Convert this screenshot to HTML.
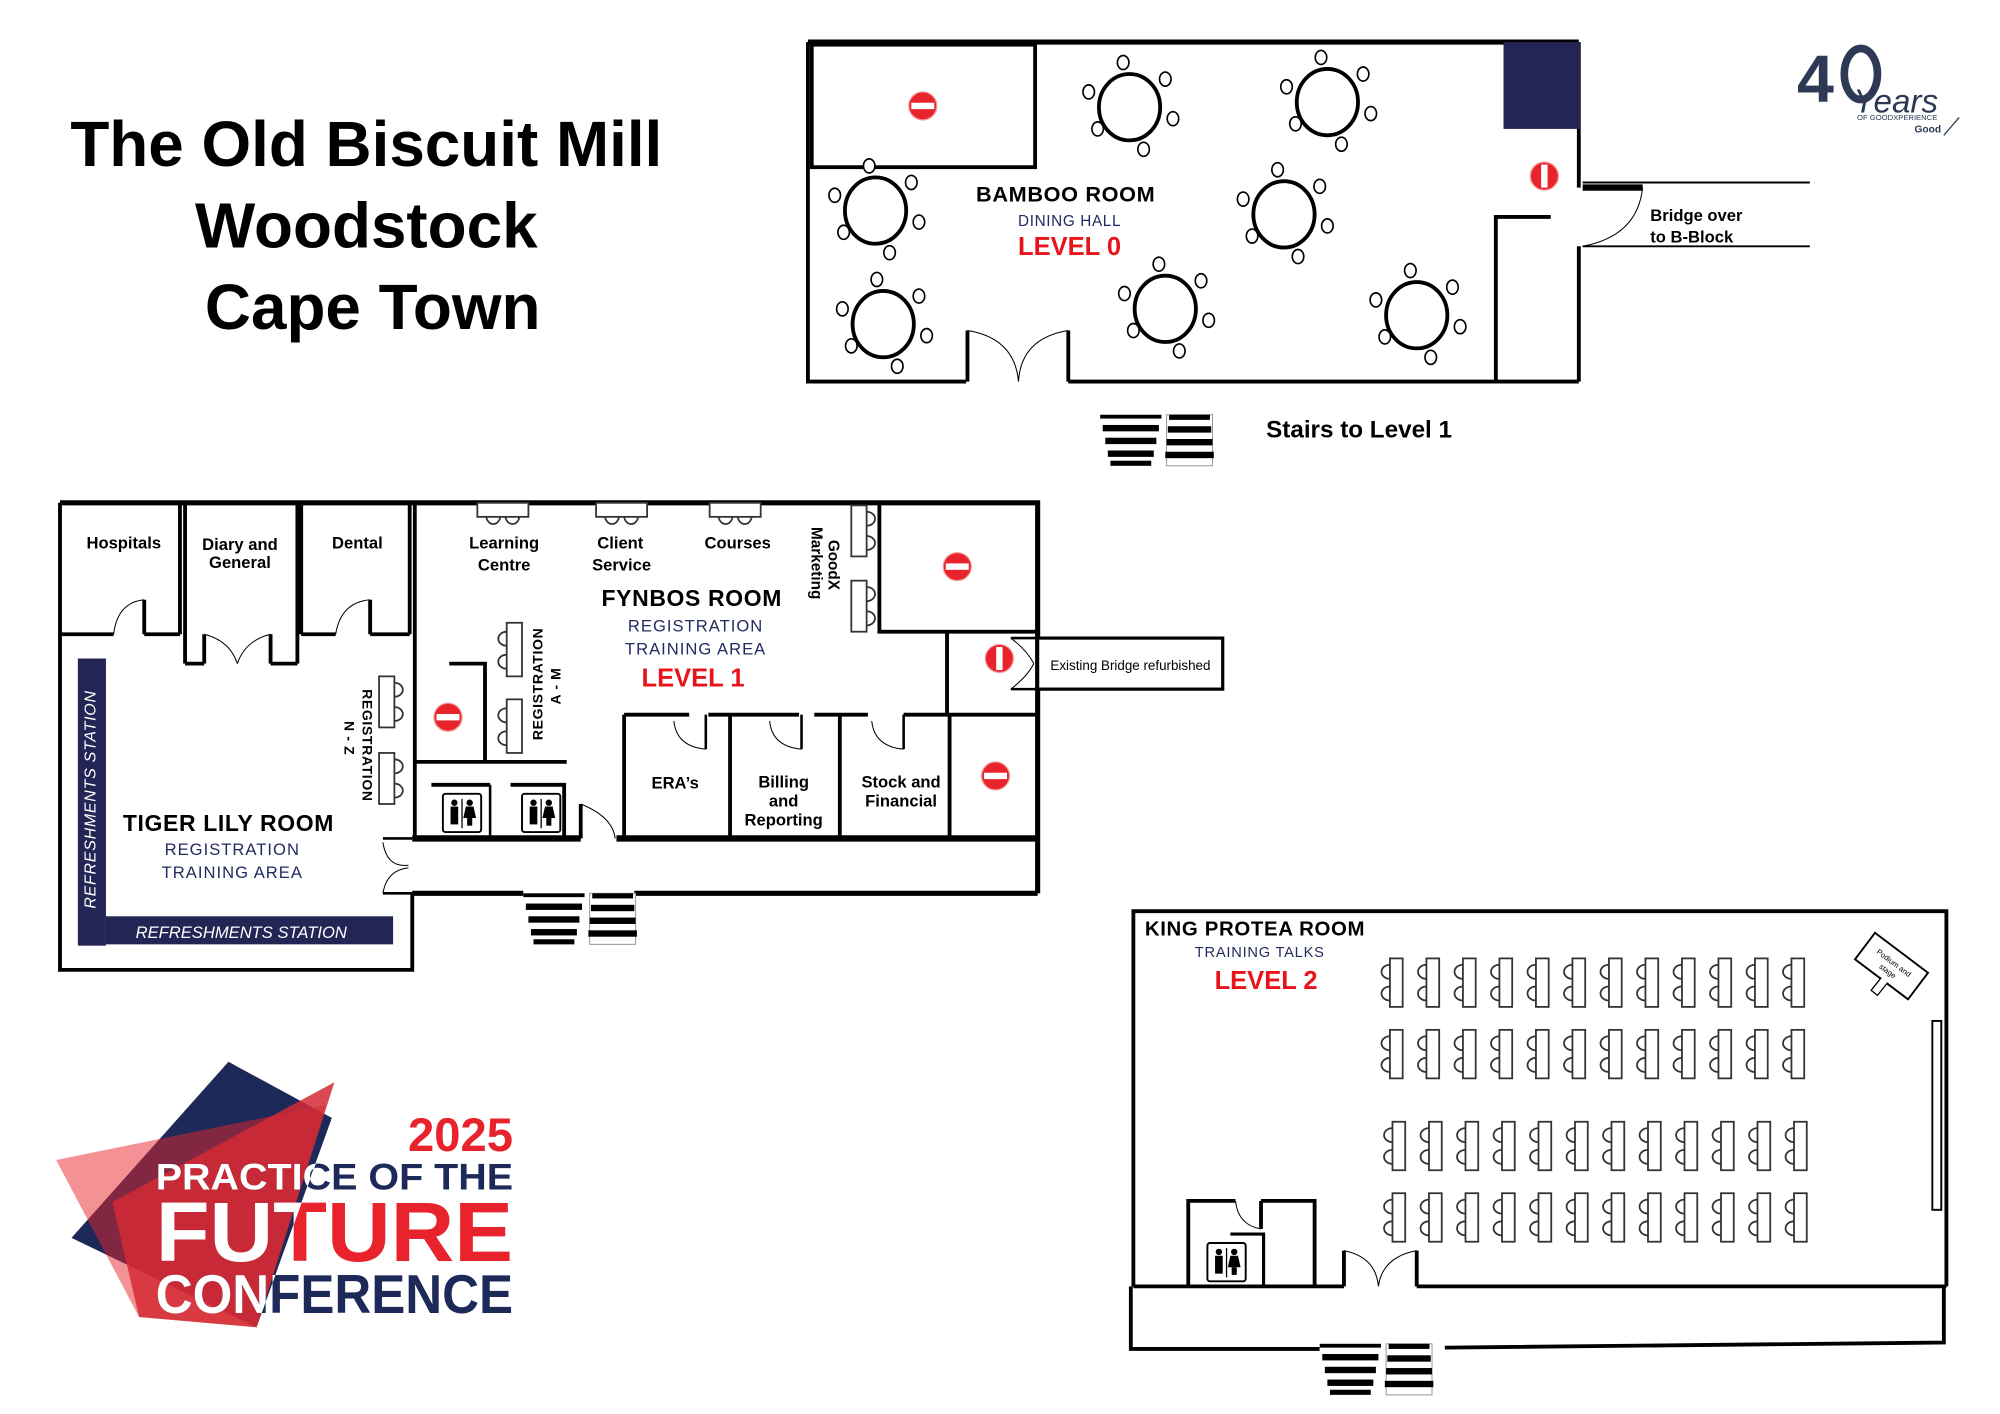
<!DOCTYPE html>
<html><head><meta charset="utf-8">
<style>
html,body{margin:0;padding:0;background:#fff;}
svg{display:block;}
text{font-family:"Liberation Sans",sans-serif;}
</style></head>
<body>
<svg width="2000" height="1414" viewBox="0 0 1567 1108" preserveAspectRatio="none" xmlns="http://www.w3.org/2000/svg">
<defs>
  <g id="tbl">
    <ellipse cx="0" cy="0" rx="24" ry="26" fill="#fff" stroke="#000" stroke-width="3"/>
    <g fill="#fff" stroke="#000" stroke-width="1.3">
      <ellipse cx="-5" cy="-35" rx="4.5" ry="5.5"/><ellipse cx="28" cy="-22" rx="4.5" ry="5.5"/>
      <ellipse cx="34" cy="9" rx="4.5" ry="5.5"/><ellipse cx="11" cy="33" rx="4.5" ry="5.5"/>
      <ellipse cx="-25" cy="17" rx="4.5" ry="5.5"/><ellipse cx="-32" cy="-12" rx="4.5" ry="5.5"/>
    </g>
  </g>
  <g id="desk" fill="#fff" stroke="#333" stroke-width="1.4">
    <path d="M9,5 a6,5 0 0 0 0,11"/><path d="M9,22 a6,5 0 0 0 0,11"/>
    <rect x="9" y="0" width="10" height="38"/>
  </g>
  <g id="deskR" fill="#fff" stroke="#333" stroke-width="1.4">
    <path d="M12,5 a6,5 0 0 1 0,11"/><path d="M12,24 a6,5 0 0 1 0,11"/>
    <rect x="0" y="0" width="12" height="40"/>
  </g>
  <g id="deskL" fill="#fff" stroke="#333" stroke-width="1.4">
    <path d="M0,7 a6,5 0 0 0 0,11"/><path d="M0,25 a6,5 0 0 0 0,11"/>
    <rect x="0" y="0" width="12" height="42"/>
  </g>
  <g id="deskT" fill="#fff" stroke="#333" stroke-width="1.4">
    <path d="M7,10 a5,6 0 0 0 11,0"/><path d="M22,10 a5,6 0 0 0 11,0"/>
    <rect x="0" y="0" width="40" height="11"/>
  </g>
  <g id="noentry">
    <circle r="11" fill="#e8232b" stroke="#f3a0a0" stroke-width="1"/>
    <rect x="-9" y="-2.5" width="18" height="5" fill="#fff"/>
  </g>
  <g id="stairs">
    <rect x="0" y="0" width="48" height="40" fill="#fff"/>
    <rect x="0" y="0" width="48" height="3" fill="#000"/>
    <rect x="2" y="8" width="44" height="5" fill="#000"/>
    <rect x="4" y="18" width="40" height="5" fill="#000"/>
    <rect x="6" y="28" width="36" height="5" fill="#000"/>
    <rect x="8" y="36" width="32" height="4" fill="#000"/>
    <rect x="52" y="0" width="36" height="40" fill="#fff" stroke="#999" stroke-width="0.8"/>
    <rect x="54" y="0" width="32" height="4" fill="#000"/>
    <rect x="53" y="9" width="34" height="5" fill="#000"/>
    <rect x="52" y="19" width="36" height="5" fill="#000"/>
    <rect x="51" y="29" width="38" height="5" fill="#000"/>
  </g>
  <g id="wc">
    <rect x="0" y="0" width="30" height="30" rx="2" fill="#fff" stroke="#000" stroke-width="1.5"/>
    <circle cx="9" cy="7" r="2.5"/><rect x="6" y="10" width="6" height="14"/>
    <circle cx="21" cy="7" r="2.5"/><path d="M18,10 h6 l2,9 h-10z"/><rect x="19" y="19" width="4" height="6"/>
    <line x1="15" y1="4" x2="15" y2="27" stroke="#000" stroke-width="1"/>
  </g>
  <clipPath id="logoClip">
    <polygon points="179,828 262,872 201,1040 56,970"/>
    <polygon points="44,909 255,866 262,848 201,1040 109,1032"/>
  </clipPath>
</defs>

<g font-weight="bold" font-size="50" text-anchor="middle" fill="#000">
  <text x="287" y="130">The Old Biscuit Mill</text>
  <text x="287" y="194">Woodstock</text>
  <text x="292" y="258">Cape Town</text>
</g>

<g stroke="#000" fill="none">
  <path d="M633,33 H1237" stroke-width="4"/>
  <path d="M633,33 V299 H757" stroke-width="3"/>
  <path d="M837,299 H1237" stroke-width="3"/>
  <path d="M1237,33 V147" stroke-width="3"/>
  <path d="M1237,193 V299" stroke-width="3"/>
  <rect x="636" y="35" width="175" height="96" stroke-width="3"/>
  <path d="M758,299 V259 M837,299 V259" stroke-width="3"/>
  <path d="M758,259 Q795,265 798,299 M837,259 Q800,265 798,299" stroke-width="0.8"/>
  <path d="M1172,299 V170 H1215" stroke-width="3"/>
  <path d="M1240,143 H1418 M1240,193 H1418" stroke-width="1.5"/>
  <path d="M1240,147 H1287" stroke-width="5"/>
  <path d="M1287,147 Q1283,185 1240,193" stroke-width="0.8"/>
</g>
<rect x="1178" y="33" width="60" height="68" fill="#232654"/>
<use href="#noentry" x="723" y="83"/>
<use href="#noentry" transform="translate(1210,138) rotate(90)"/>
<use href="#tbl" x="885" y="84"/>
<use href="#tbl" x="1040" y="80"/>
<use href="#tbl" x="686" y="165"/>
<use href="#tbl" x="1006" y="168"/>
<use href="#tbl" x="692" y="254"/>
<use href="#tbl" x="913" y="242"/>
<use href="#tbl" x="1110" y="247"/>
<text x="835" y="158" font-size="17" font-weight="bold" text-anchor="middle" letter-spacing="0.5">BAMBOO ROOM</text>
<text x="838" y="177" font-size="12" fill="#232a60" text-anchor="middle" letter-spacing="0.5">DINING HALL</text>
<text x="838" y="200" font-size="20" font-weight="bold" fill="#e8141c" text-anchor="middle">LEVEL 0</text>
<text x="1293" y="173" font-size="13" font-weight="bold">Bridge over</text>
<text x="1293" y="190" font-size="13" font-weight="bold">to B-Block</text>
<use href="#stairs" x="862" y="325"/>
<text x="992" y="343" font-size="19" font-weight="bold">Stairs to Level 1</text>

<g fill="#2e3a55">
  <text x="1408" y="80" font-size="52" font-weight="bold">4</text>
  <ellipse cx="1458" cy="58" rx="13" ry="20" fill="none" stroke="#2e3a55" stroke-width="6"/>
  <text x="1452" y="88" font-size="26" font-style="italic" font-family="Liberation Serif,serif">Years</text>
  <text x="1455" y="94" font-size="6">OF GOODXPERIENCE</text>
  <text x="1500" y="104" font-size="8" font-weight="bold">Good</text>
  <path d="M1523,106 l12,-14" stroke="#2e3a55" stroke-width="1"/>
</g>

<g stroke="#000" fill="none" stroke-width="3">
  <path d="M47,394 H813 V700" stroke-width="4"/>
  <path d="M47,394 V760 H323 V700"/>
  <path d="M323,700 H410 M497,700 H813" stroke-width="4"/>
  <path d="M141,394 V497 M145,394 V520 M233,394 V520 M236,394 V497 M321,394 V497 M325,394 V657"/>
  <path d="M47,497 H89 M113,497 H141"/>
  <path d="M145,520 H160 M212,520 H233"/>
  <path d="M236,497 H263 M290,497 H321"/>
  <path d="M113,470 Q92,472 89,497 M290,470 Q267,472 263,497 M160,497 Q180,502 186,520 M212,497 Q192,502 186,520" stroke-width="0.8"/>
  <path d="M160,520 V497 M212,520 V497 M113,497 V470 M290,497 V470" stroke-width="3"/>
  <path d="M300,657 H323 M300,700 H323" stroke-width="2"/>
  <path d="M300,660 Q303,680 320,678 M300,700 Q303,682 320,680" stroke-width="0.8"/>
  <rect x="689" y="394" width="124" height="101" />
  <path d="M742,495 V560"/>
  <path d="M792,500 H813 M792,540 H813" stroke-width="2"/>
  <path d="M792,500 Q805,510 810,520 M792,540 Q805,530 810,520" stroke-width="0.8"/>
  <path d="M489,560 H540 M555,560 H626 M638,560 H680 M708,560 H813" />
  <path d="M489,560 V657 M572,560 V657 M658,560 V657 M744,560 V657"/>
  <path d="M553,560 V587 M628,560 V587 M708,560 V587" stroke-width="2"/>
  <path d="M528,565 Q530,585 553,587 M603,565 Q605,585 628,587 M683,565 Q685,585 708,587" stroke-width="0.8"/>
  <path d="M483,657 H813" stroke-width="5"/>
  <path d="M323,657 H455" stroke-width="5"/>
  <path d="M352,520 H380 V597 M325,597 H444" />
  <path d="M455,657 V630" stroke-width="3"/>
  <path d="M455,630 Q480,640 482,657" stroke-width="0.8"/>
  <path d="M384,615 V657" stroke-width="2"/>
  <path d="M338,615 H384 M400,615 H442 V657" stroke-width="3"/>
</g>
<rect x="813" y="500" width="145" height="40" fill="#fff" stroke="#000" stroke-width="2.5"/>
<text x="823" y="525" font-size="10.5">Existing Bridge refurbished</text>
<rect x="61" y="516" width="22" height="225" fill="#232654"/>
<rect x="83" y="718" width="225" height="22" fill="#232654"/>
<text transform="translate(75,712) rotate(-90)" font-size="12.5" font-style="italic" fill="#fff" letter-spacing="0.6">REFRESHMENTS STATION</text>
<text x="189" y="735" font-size="13" font-style="italic" fill="#fff" text-anchor="middle">REFRESHMENTS STATION</text>
<use href="#noentry" x="750" y="444"/>
<use href="#noentry" transform="translate(783,516) rotate(90)"/>
<use href="#noentry" x="351" y="562"/>
<use href="#noentry" x="780" y="608"/>
<use href="#wc" x="347" y="622"/>
<use href="#wc" x="409" y="622"/>
<use href="#deskT" x="374" y="394"/>
<use href="#deskT" x="467" y="394"/>
<use href="#deskT" x="556" y="394"/>
<use href="#deskR" x="667" y="396"/>
<use href="#deskR" x="667" y="455"/>
<use href="#deskL" x="397" y="488"/>
<use href="#deskL" x="397" y="548"/>
<use href="#deskR" x="297" y="530"/>
<use href="#deskR" x="297" y="590"/>
<g font-size="13" font-weight="bold" text-anchor="middle">
  <text x="97" y="430">Hospitals</text>
  <text x="188" y="431">Diary and</text><text x="188" y="445">General</text>
  <text x="280" y="430">Dental</text>
  <text x="395" y="430">Learning</text><text x="395" y="447">Centre</text>
  <text x="486" y="430">Client</text><text x="487" y="447">Service</text>
  <text x="578" y="430">Courses</text>
  <text x="529" y="618">ERA’s</text>
  <text x="614" y="617">Billing</text><text x="614" y="632">and</text><text x="614" y="647">Reporting</text>
  <text x="706" y="617">Stock and</text><text x="706" y="632">Financial</text>
</g>
<text transform="translate(636,413) rotate(90)" font-size="12" font-weight="bold">Marketing</text>
<text transform="translate(649,423) rotate(90)" font-size="12" font-weight="bold">GoodX</text>
<text transform="translate(425,580) rotate(-90)" font-size="11" font-weight="bold" letter-spacing="0.5">REGISTRATION</text>
<text transform="translate(439,552) rotate(-90)" font-size="11" font-weight="bold" letter-spacing="0.5">A - M</text>
<text transform="translate(284,540) rotate(90)" font-size="11" font-weight="bold" letter-spacing="0.5">REGISTRATION</text>
<text transform="translate(270,565) rotate(90)" font-size="11" font-weight="bold" letter-spacing="0.5">N - Z</text>
<text x="542" y="475" font-size="18" font-weight="bold" text-anchor="middle" letter-spacing="0.5">FYNBOS ROOM</text>
<text x="545" y="495" font-size="13" fill="#232a60" text-anchor="middle" letter-spacing="0.8">REGISTRATION</text>
<text x="545" y="513" font-size="13" fill="#232a60" text-anchor="middle" letter-spacing="0.8">TRAINING AREA</text>
<text x="543" y="538" font-size="20" font-weight="bold" fill="#e8141c" text-anchor="middle">LEVEL 1</text>
<text x="179" y="651" font-size="18" font-weight="bold" text-anchor="middle" letter-spacing="0.5">TIGER LILY ROOM</text>
<text x="182" y="670" font-size="13" fill="#232a60" text-anchor="middle" letter-spacing="0.8">REGISTRATION</text>
<text x="182" y="688" font-size="13" fill="#232a60" text-anchor="middle" letter-spacing="0.8">TRAINING AREA</text>
<use href="#stairs" x="410" y="700"/>

<g stroke="#000" fill="none" stroke-width="3">
  <path d="M888,1008 V714 H1525 V1008"/>
  <path d="M888,1008 H1053 M1110,1008 H1525"/>
  <path d="M1053,1008 V980 M1110,1008 V980"/>
  <path d="M1053,980 Q1078,985 1080,1008 M1110,980 Q1083,985 1080,1008" stroke-width="0.8"/>
  <path d="M886,1008 V1057 H1034 M1132,1056 L1523,1052 V1008"/>
  <path d="M931,1008 V941 H968 M988,941 H1030 V1008"/>
  <path d="M988,941 V963" />
  <path d="M968,941 Q970,960 988,963" stroke-width="0.8"/>
  <path d="M964,967 H990 V1008" stroke-width="2.5"/>
</g>
<use href="#wc" x="946" y="974"/>
<rect x="1514" y="800" width="7" height="148" fill="#fff" stroke="#000" stroke-width="1.5"/>
<g transform="translate(1482,757) rotate(37)">
  <rect x="-26" y="-13" width="52" height="26" fill="#fff" stroke="#000" stroke-width="1.5"/>
  <text x="0" y="-1" font-size="6" text-anchor="middle">Podium and</text>
  <text x="0" y="7" font-size="6" text-anchor="middle">stage</text>
</g>
<path d="M1474,766 l-8,10 l5,4 l8,-10" fill="#fff" stroke="#000" stroke-width="1"/>
<text x="897" y="733" font-size="16" font-weight="bold" letter-spacing="0.5">KING PROTEA ROOM</text>
<text x="987" y="750" font-size="11.5" fill="#232a60" text-anchor="middle" letter-spacing="0.6">TRAINING TALKS</text>
<text x="992" y="775" font-size="20" font-weight="bold" fill="#e8141c" text-anchor="middle">LEVEL 2</text>
<g id="row1">
  <use href="#desk" x="1080" y="751"/><use href="#desk" x="1108.6" y="751"/><use href="#desk" x="1137.2" y="751"/><use href="#desk" x="1165.8" y="751"/>
  <use href="#desk" x="1194.4" y="751"/><use href="#desk" x="1223" y="751"/><use href="#desk" x="1251.6" y="751"/><use href="#desk" x="1280.2" y="751"/>
  <use href="#desk" x="1308.8" y="751"/><use href="#desk" x="1337.4" y="751"/><use href="#desk" x="1366" y="751"/><use href="#desk" x="1394.6" y="751"/>
</g>
<use href="#row1" y="56"/>
<use href="#row1" x="2" y="128"/>
<use href="#row1" x="2" y="184"/>
<use href="#stairs" x="1034" y="1053"/>

<polygon points="179,832 260,876 201,1040 56,970" fill="#1d2a59"/>
<polygon points="44,909 255,866 201,1040 109,1032" fill="#e8232b" opacity="0.5"/>
<polygon points="88,942 262,848 201,1040 109,1032" fill="#d42a34" opacity="0.85"/>
<g font-weight="bold" text-anchor="end">
  <text x="402" y="902" font-size="37" fill="#e8232b">2025</text>
  <text x="402" y="932" font-size="29" fill="#1d2a59" textLength="280" lengthAdjust="spacingAndGlyphs">PRACTICE OF THE</text>
  <text x="402" y="988" font-size="66" fill="#e8232b" textLength="280" lengthAdjust="spacingAndGlyphs">FUTURE</text>
  <text x="402" y="1029" font-size="43" fill="#1d2a59" textLength="280" lengthAdjust="spacingAndGlyphs">CONFERENCE</text>
</g>
<g font-weight="bold" text-anchor="end" clip-path="url(#logoClip)" fill="#fff">
  <text x="402" y="932" font-size="29" textLength="280" lengthAdjust="spacingAndGlyphs">PRACTICE OF THE</text>
  <text x="402" y="988" font-size="66" textLength="280" lengthAdjust="spacingAndGlyphs">FUTURE</text>
  <text x="402" y="1029" font-size="43" textLength="280" lengthAdjust="spacingAndGlyphs">CONFERENCE</text>
</g>
</svg>
</body></html>
